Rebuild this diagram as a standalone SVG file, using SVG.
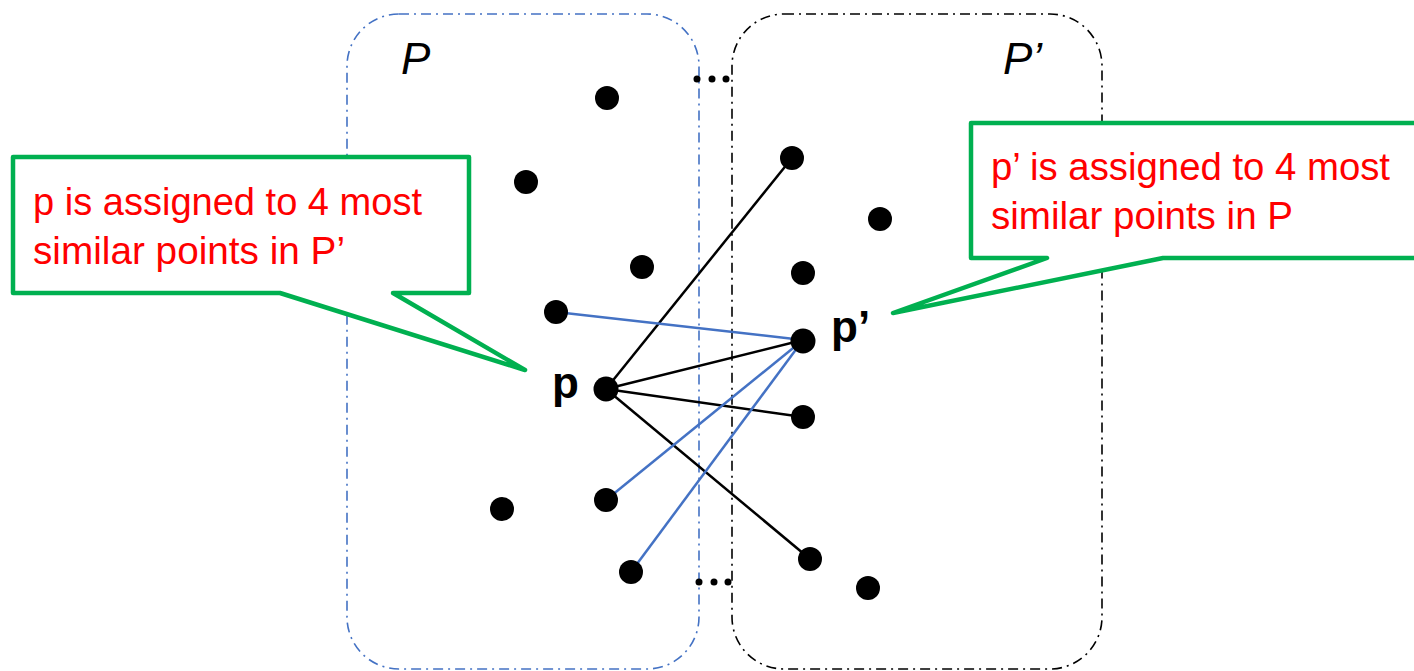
<svg xmlns="http://www.w3.org/2000/svg" width="1414" height="671" viewBox="0 0 1414 671">
<style>
.setP{fill:none;stroke:#4472C4;stroke-width:1.6;stroke-dasharray:10 5 2 5}
.setQ{fill:none;stroke:#000;stroke-width:1.6;stroke-dasharray:10 5 2 5}
.pt{fill:#000}
.sm{fill:#000}
.lk{stroke:#000;stroke-width:2.5;fill:none}
.lb{stroke:#4472C4;stroke-width:2.5;fill:none}
.call{fill:#fff;stroke:#00B050;stroke-width:4.5;stroke-linejoin:round}
.ct{font-family:"Liberation Sans",Arial,sans-serif;font-size:38px;fill:#FF0000}
.setlbl{font-family:"Liberation Sans",Arial,sans-serif;font-size:44px;font-style:italic;fill:#000}
.plbl{font-family:"Liberation Sans",Arial,sans-serif;font-size:44px;font-weight:bold;fill:#000}
</style>
<rect width="1414" height="671" fill="#fff"/>
<g id="set-P">
<rect class="setP" x="347" y="14" width="352" height="655" rx="52" ry="52"/>
<text class="setlbl" x="401" y="74">P</text>
</g>
<g id="set-Pprime">
<rect class="setQ" x="732" y="14" width="370" height="655" rx="52" ry="52"/>
<text class="setlbl" x="1003" y="74">P’</text>
</g>
<g id="ellipsis-top">
<circle class="sm" cx="697" cy="79" r="3.5"/><circle class="sm" cx="712" cy="79" r="3.5"/><circle class="sm" cx="726" cy="79" r="3.5"/>
</g>
<g id="ellipsis-bottom">
<circle class="sm" cx="699" cy="582" r="3.5"/><circle class="sm" cx="714" cy="582" r="3.5"/><circle class="sm" cx="728" cy="582" r="3.5"/>
</g>
<g id="connectors">
<line class="lk" x1="606" y1="389" x2="792" y2="158"/>
<line class="lk" x1="606" y1="389" x2="803" y2="340"/>
<line class="lk" x1="606" y1="389" x2="803" y2="417"/>
<line class="lk" x1="606" y1="389" x2="810" y2="559"/>
<line class="lb" x1="803" y1="340" x2="556" y2="312"/>
<line class="lb" x1="803" y1="340" x2="606" y2="500"/>
<line class="lb" x1="803" y1="340" x2="631" y2="572"/>
</g>
<g id="points-P">
<circle class="pt" cx="607" cy="98" r="12"/>
<circle class="pt" cx="526" cy="182" r="12"/>
<circle class="pt" cx="642" cy="267" r="12"/>
<circle class="pt" cx="556" cy="312" r="12"/>
<circle class="pt" cx="502" cy="509" r="12"/>
<circle class="pt" cx="606" cy="500" r="12"/>
<circle class="pt" cx="631" cy="572" r="12"/>
</g>
<g id="node-p">
<circle class="pt" cx="606" cy="389" r="12.5"/>
<text class="plbl" x="552" y="398">p</text>
</g>
<g id="points-Pprime">
<circle class="pt" cx="792" cy="158" r="12"/>
<circle class="pt" cx="880" cy="219" r="12"/>
<circle class="pt" cx="803" cy="273" r="12"/>
<circle class="pt" cx="803" cy="417" r="12"/>
<circle class="pt" cx="810" cy="559" r="12"/>
<circle class="pt" cx="868" cy="588" r="12"/>
</g>
<g id="node-pprime">
<circle class="pt" cx="803" cy="341" r="12.5"/>
<text class="plbl" x="831" y="342">p’</text>
</g>
<g id="callout-left">
<path class="call" d="M13 157 H469 V293 H393 L525 370 L280 293 H13 Z"/>
<text class="ct" x="33" y="215" textLength="389" lengthAdjust="spacingAndGlyphs">p is assigned to 4 most</text>
<text class="ct" x="33" y="264" textLength="312" lengthAdjust="spacingAndGlyphs">similar points in P’</text>
</g>
<g id="callout-right">
<path class="call" d="M971 123 H1420 V258 H1163 L893 313 L1047 258 H971 Z"/>
<text class="ct" x="991" y="180" textLength="399" lengthAdjust="spacingAndGlyphs">p’ is assigned to 4 most</text>
<text class="ct" x="991" y="229" textLength="302" lengthAdjust="spacingAndGlyphs">similar points in P</text>
</g>
</svg>
